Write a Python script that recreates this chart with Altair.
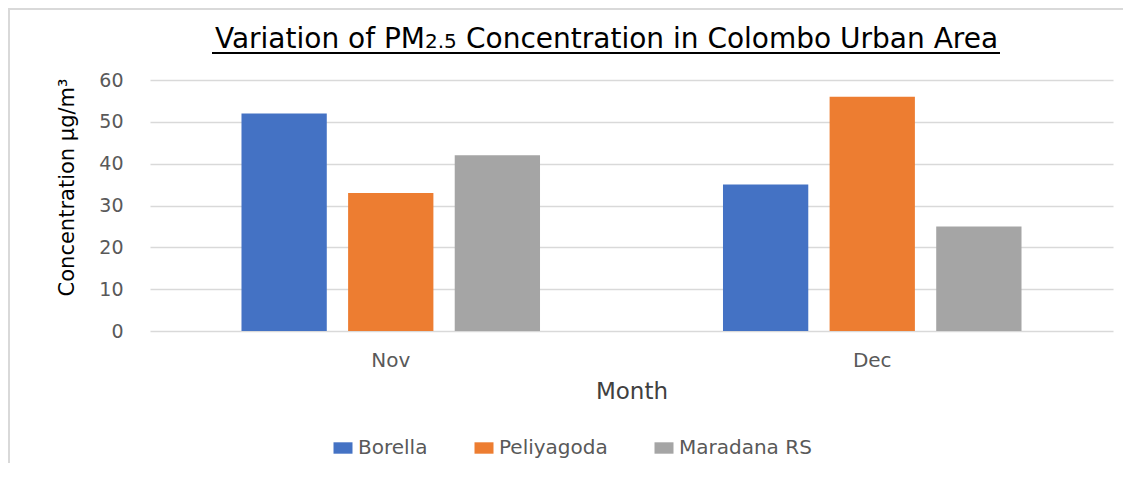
import altair as alt
import pandas as pd

months = ["Nov", "Dec"]
stations = ["Borella", "Peliyagoda", "Maradana RS"]
borella = [52, 35]
peliyagoda = [33, 56]
maradana = [42, 25]
colors = ["#4472C4", "#ED7D31", "#A5A5A5"]
y_ticks = [0, 10, 20, 30, 40, 50, 60]
title_parts = ["Variation of PM", "2.5", "Concentration in Colombo Urban Area"]

rows = []
for i, m in enumerate(months):
    for s, vals in zip(stations, [borella, peliyagoda, maradana]):
        rows.append({"Month": m, "Station": s, "Value": vals[i]})
df = pd.DataFrame(rows)

FONT = "DejaVu Sans"

bars = alt.Chart(df).mark_bar().encode(
    x=alt.X(
        "Month:N", sort=months,
        scale=alt.Scale(paddingInner=0.38, paddingOuter=0.19),
        axis=alt.Axis(
            title="Month", labelAngle=0, ticks=False, domain=False, labelPadding=19,
            labelFontSize=20, labelColor="#595959", labelFont=FONT,
            titleFontSize=23, titleColor="#404040", titleFont=FONT, titleFontWeight="normal",
            titleY=60, titleBaseline="middle",
        ),
    ),
    xOffset=alt.XOffset("Station:N", sort=stations,
                        scale=alt.Scale(paddingInner=0.2, paddingOuter=0)),
    y=alt.Y(
        "Value:Q", scale=alt.Scale(domain=[0, 60]),
        axis=alt.Axis(
            values=y_ticks, title="Concentration µg/m³", ticks=False, domain=False,
            labelPadding=27, labelFontSize=19, labelColor="#595959", labelFont=FONT,
            gridColor="#d9d9d9", gridWidth=1.5,
            titleFontSize=21, titleColor="black", titleFont=FONT, titleFontWeight="normal",
            titleX=-83, titleY=107, titleAlign="center", titleBaseline="middle", titleAngle=-90,
        ),
    ),
    color=alt.Color(
        "Station:N", sort=stations,
        scale=alt.Scale(domain=stations, range=colors),
        legend=alt.Legend(
            orient="none", legendX=183, legendY=358, direction="horizontal", title=None,
            symbolType="M-1,-0.6H1V0.6H-1Z", symbolSize=361, symbolStrokeWidth=0,
            symbolOpacity=1, labelFontSize=20, labelColor="#595959", labelFont=FONT,
            columnPadding=46, labelOffset=5,
        ),
    ),
)

deco = alt.Data(values=[{}])
border = alt.Chart(deco).mark_rect(fillOpacity=0, stroke="#d9d9d9", strokeWidth=2).encode(
    x=alt.value(-141), x2=alt.value(1100), y=alt.value(-71), y2=alt.value(500)
)
t1 = alt.Chart(deco).mark_text(align="right", baseline="alphabetic", font=FONT,
                               fontSize=28, color="black").encode(
    x=alt.value(275), y=alt.value(-32), text=alt.value(title_parts[0]))
t2 = alt.Chart(deco).mark_text(align="left", baseline="alphabetic", font=FONT,
                               fontSize=20, color="black").encode(
    x=alt.value(275), y=alt.value(-32), text=alt.value(title_parts[1]))
t3 = alt.Chart(deco).mark_text(align="left", baseline="alphabetic", font=FONT,
                               fontSize=28, color="black").encode(
    x=alt.value(316), y=alt.value(-32), text=alt.value(title_parts[2]))
underline = alt.Chart(deco).mark_rule(color="black", strokeWidth=2).encode(
    x=alt.value(62), x2=alt.value(850), y=alt.value(-27)
)

chart = alt.layer(border, bars, t1, t2, t3, underline).properties(
    width=963, height=251,
    padding={"left": 142, "top": 72, "right": 10, "bottom": 132},
    autosize=alt.AutoSizeParams(type="none"),
).configure_view(stroke=None)

chart.save("out.html", embed_options={"renderer": "svg", "actions": False})
